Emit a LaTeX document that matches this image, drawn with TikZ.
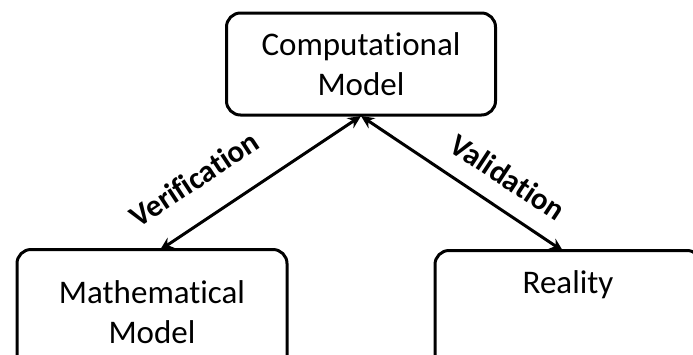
\documentclass[tikz,border=0pt]{standalone}
\usepackage{fontspec}
\setmainfont{Carlito}[Ligatures={NoCommon,NoContextual}]
\usetikzlibrary{arrows.meta}
\begin{document}
\begin{tikzpicture}[x=1pt,y=-1pt,
  box/.style={draw,line width=3pt,rounded corners=14pt,inner sep=0pt,align=center,font=\fontsize{33}{40}\selectfont},
  link/.style={line width=3pt,{Stealth[length=13pt,width=12pt]}-{Stealth[length=13pt,width=12pt]}},
  lab/.style={font=\bfseries\fontsize{31}{36}\selectfont,inner sep=0pt}]
\useasboundingbox (0,0) rectangle (693,354);
\clip (0,0) rectangle (693,354);
\node[box,minimum width=269pt,minimum height=102pt] (comp) at (361,64) {Computational\\Model};
\node[box,minimum width=270pt,minimum height=125pt] (math) at (152,312) {Mathematical\\Model};
\node[box,minimum width=266pt,minimum height=125pt] (real) at (568,313) {};
\node[font=\fontsize{33}{40}\selectfont,inner sep=0pt] (realt) at (568,285) {Reality};
\coordinate (ctop) at (361,116);
\coordinate (mtop) at (160,250);
\coordinate (rtop) at (563,251);
\draw[link] (mtop) -- (ctop);
\draw[link] (ctop) -- (rtop);
\node[lab,rotate=33.4] (ver) at (194,179) {Verification};
\node[lab,rotate=-33.4] (val) at (508,177) {Validation};
\end{tikzpicture}
\end{document}
